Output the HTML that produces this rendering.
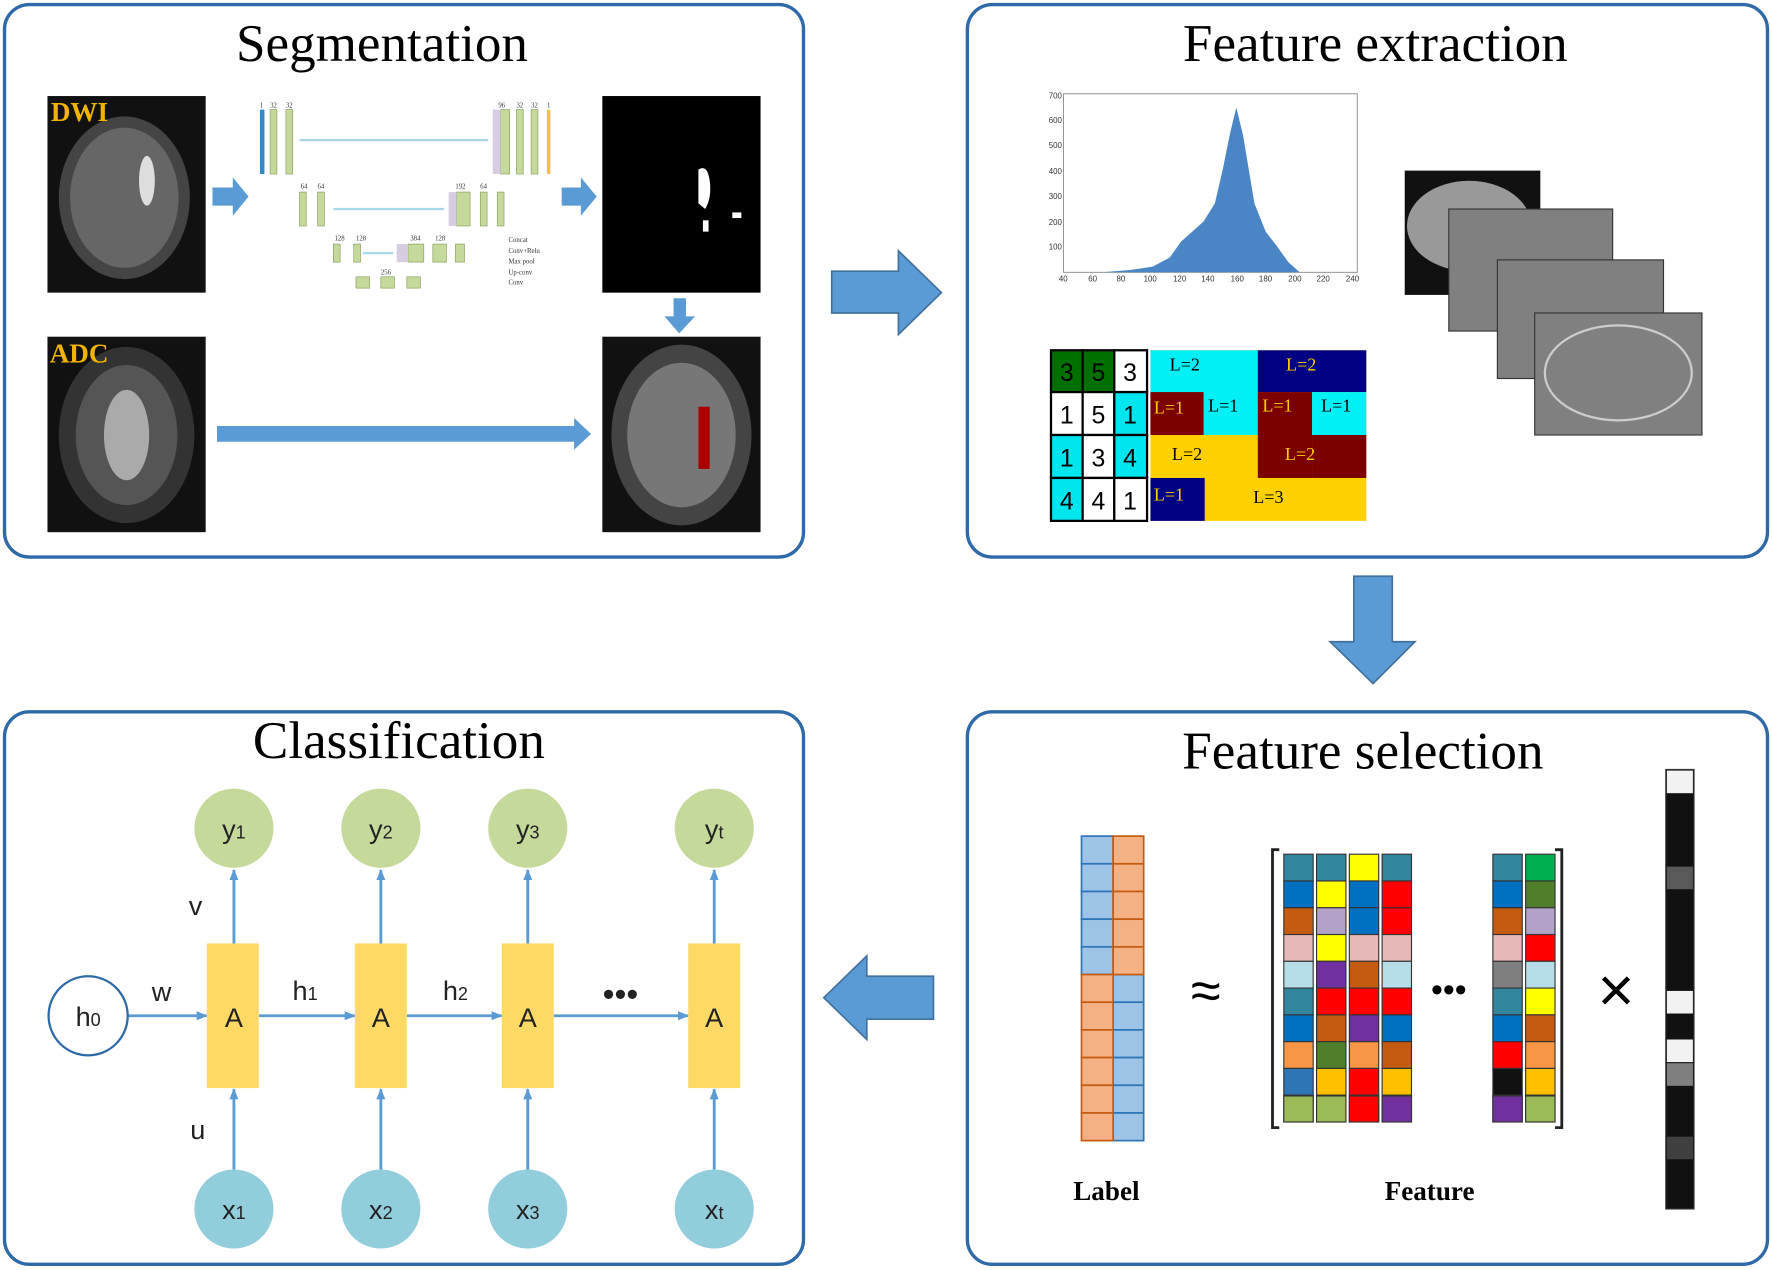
<!DOCTYPE html>
<html><head><meta charset="utf-8"><style>
html,body{margin:0;padding:0;background:#fff}
svg{display:block}
text{font-family:"Liberation Serif",serif}
.s text, text.s{font-family:"Liberation Sans",sans-serif}
</style></head><body>
<svg width="1772" height="1270" viewBox="0 0 1568 1124" preserveAspectRatio="none" xmlns="http://www.w3.org/2000/svg">
<defs>
<marker id="ah" markerWidth="10" markerHeight="10" refX="9" refY="5" orient="auto" markerUnits="userSpaceOnUse"><path d="M0,1 L10,5 L0,9 z" fill="#5b9bd5"/></marker>
</defs>
<g fill="none" stroke="#2e6aa8" stroke-width="3">
<rect x="4" y="4" width="707" height="489" rx="22"/>
<rect x="856" y="4" width="708" height="489" rx="22"/>
<rect x="4" y="630" width="707" height="489" rx="22"/>
<rect x="856" y="630" width="708" height="489" rx="22"/>
</g>
<g font-size="47" text-anchor="middle" fill="#000">
<text x="338" y="54">Segmentation</text>
<text x="1217" y="54">Feature extraction</text>
<text x="353" y="671">Classification</text>
<text x="1206" y="680">Feature selection</text>
</g>
<g fill="#5b9bd5" stroke="#41719c" stroke-width="1.5">
<path d="M736,240 H795 V222 L833,259 L795,296 V277 H736 Z"/>
<path d="M1198,510 H1232 V568 H1252 L1215,605 L1177,568 H1198 Z"/>
<path d="M826,864 H767 V846 L729,883 L767,920 V902 H826 Z"/>
</g>
<rect x="42" y="85" width="140" height="174" fill="#111"/>
<ellipse cx="110" cy="175" rx="58" ry="72" fill="#444"/>
<ellipse cx="110" cy="175" rx="48" ry="62" fill="#666"/>
<ellipse cx="130" cy="160" rx="7" ry="22" fill="#ddd"/>
<text x="45" y="107" font-size="24" font-weight="bold" fill="#f0b400">DWI</text>
<rect x="42" y="298" width="140" height="173" fill="#111"/>
<ellipse cx="112" cy="385" rx="60" ry="78" fill="#333"/>
<ellipse cx="112" cy="385" rx="45" ry="62" fill="#555"/>
<ellipse cx="112" cy="385" rx="20" ry="40" fill="#aaa"/>
<text x="44" y="321" font-size="24" font-weight="bold" fill="#f0b400">ADC</text>
<rect x="533" y="85" width="140" height="174" fill="#000"/>
<path d="M618,150 q8,-5 10,10 q2,15 -4,25 l-6,-5 z" fill="#fff"/>
<rect x="622" y="195" width="5" height="10" fill="#fff"/><rect x="648" y="188" width="8" height="5" fill="#fff"/>
<rect x="533" y="298" width="140" height="173" fill="#111"/>
<ellipse cx="603" cy="385" rx="62" ry="80" fill="#444"/>
<ellipse cx="603" cy="385" rx="48" ry="64" fill="#777"/>
<rect x="618" y="360" width="10" height="55" fill="#a00"/>
<g fill="#5b9bd5">
<path d="M188,166 H206 V157 L220,174 L206,191 V182 H188 Z"/>
<path d="M497,166 H514 V157 L528,174 L514,191 V182 H497 Z"/>
<path d="M596,264 H607 V280 H615 L601,295 L588,280 H596 Z"/>
<path d="M192,377 H508 V370 L523,384 L508,398 V391 H192 Z"/>
</g>
<g fill="#c5d99b" stroke="#8aa060" stroke-width="0.6">
<rect x="239" y="97" width="6" height="57"/><rect x="253" y="97" width="6" height="57"/>
<rect x="265" y="170" width="6" height="30"/><rect x="281" y="170" width="6" height="30"/>
<rect x="295" y="216" width="6" height="16"/><rect x="313" y="216" width="6" height="16"/>
<rect x="315" y="245" width="12" height="10"/><rect x="337" y="245" width="12" height="10"/><rect x="360" y="245" width="12" height="10"/>
<rect x="361" y="216" width="14" height="16"/><rect x="383" y="216" width="12" height="16"/><rect x="403" y="216" width="8" height="16"/>
<rect x="404" y="170" width="12" height="30"/><rect x="425" y="170" width="6" height="30"/><rect x="440" y="170" width="6" height="30"/>
<rect x="443" y="97" width="8" height="57"/><rect x="457" y="97" width="6" height="57"/><rect x="470" y="97" width="6" height="57"/>
</g>
<rect x="230" y="97" width="4" height="57" fill="#2e8bd0"/>
<rect x="484" y="97" width="3" height="57" fill="#f0c040"/>
<rect x="436" y="97" width="7" height="57" fill="#d7cde3"/>
<rect x="397" y="170" width="7" height="30" fill="#d7cde3"/>
<rect x="351" y="216" width="10" height="16" fill="#d7cde3"/>
<g stroke="#a8d8e8" stroke-width="2"><line x1="265" y1="124" x2="432" y2="124"/><line x1="295" y1="185" x2="393" y2="185"/><line x1="321" y1="224" x2="348" y2="224"/></g>
<g font-size="6" fill="#333"><text x="230" y="95">1</text><text x="239" y="95">32</text><text x="253" y="95">32</text><text x="266" y="167">64</text><text x="281" y="167">64</text><text x="296" y="213">128</text><text x="315" y="213">128</text><text x="337" y="243">256</text><text x="363" y="213">384</text><text x="385" y="213">128</text><text x="403" y="167">192</text><text x="425" y="167">64</text><text x="441" y="95">96</text><text x="457" y="95">32</text><text x="470" y="95">32</text><text x="484" y="95">1</text>
<text x="450" y="214">Concat</text><text x="450" y="224">Conv+Relu</text><text x="450" y="233">Max pool</text><text x="450" y="243">Up-conv</text><text x="450" y="252">Conv</text></g>
<g stroke="#888" stroke-width="0.8" fill="none"><rect x="941" y="83" width="260" height="158"/></g>
<g fill="#4a86c5">
<path d="M975,241 L1000,239 L1020,236 L1035,228 L1045,214 L1055,205 L1065,196 L1075,180 L1082,150 L1088,120 L1094,95 L1100,120 L1105,150 L1110,180 L1120,205 L1130,218 L1140,232 L1150,241 Z"/>
</g>
<g font-size="7" fill="#333" class="s"><text x="928" y="87">700</text><text x="928" y="109">600</text><text x="928" y="131">500</text><text x="928" y="154">400</text><text x="928" y="176">300</text><text x="928" y="199">200</text><text x="928" y="221">100</text>
<text x="937" y="249">40</text><text x="963" y="249">60</text><text x="988" y="249">80</text><text x="1012" y="249">100</text><text x="1038" y="249">120</text><text x="1063" y="249">140</text><text x="1089" y="249">160</text><text x="1114" y="249">180</text><text x="1140" y="249">200</text><text x="1165" y="249">220</text><text x="1191" y="249">240</text></g>
<rect x="1243" y="151" width="120" height="110" fill="#111"/>
<ellipse cx="1300" cy="200" rx="55" ry="40" fill="#999"/>
<rect x="1282" y="185" width="145" height="108" fill="#808080" stroke="#333"/>
<rect x="1325" y="230" width="147" height="105" fill="#808080" stroke="#333"/>
<rect x="1358" y="277" width="148" height="108" fill="#808080" stroke="#333"/>
<ellipse cx="1432" cy="330" rx="65" ry="42" fill="none" stroke="#ccc" stroke-width="2"/>
<g stroke="#000" stroke-width="2">
<rect x="930" y="310" width="28" height="37" fill="#007000"/><rect x="958" y="310" width="28" height="37" fill="#007000"/><rect x="986" y="310" width="29" height="37" fill="#fff"/>
<rect x="930" y="347" width="28" height="38" fill="#fff"/><rect x="958" y="347" width="28" height="38" fill="#fff"/><rect x="986" y="347" width="29" height="38" fill="#00e5ee"/>
<rect x="930" y="385" width="28" height="38" fill="#00e5ee"/><rect x="958" y="385" width="28" height="38" fill="#fff"/><rect x="986" y="385" width="29" height="38" fill="#00e5ee"/>
<rect x="930" y="423" width="28" height="38" fill="#00e5ee"/><rect x="958" y="423" width="28" height="38" fill="#fff"/><rect x="986" y="423" width="29" height="38" fill="#fff"/>
</g>
<g font-size="22" text-anchor="middle" class="s"><text x="944" y="337">3</text><text x="972" y="337">5</text><text x="1000" y="337">3</text><text x="944" y="375">1</text><text x="972" y="375">5</text><text x="1000" y="375">1</text><text x="944" y="413">1</text><text x="972" y="413">3</text><text x="1000" y="413">4</text><text x="944" y="451">4</text><text x="972" y="451">4</text><text x="1000" y="451">1</text></g>
<rect x="1018" y="310" width="191" height="151" fill="#ffd000"/>
<rect x="1018" y="310" width="95" height="75" fill="#00f0f5"/>
<rect x="1113" y="310" width="96" height="37" fill="#000080"/>
<rect x="1018" y="347" width="47" height="38" fill="#7b0000"/>
<rect x="1113" y="347" width="48" height="76" fill="#7b0000"/><rect x="1161" y="385" width="48" height="38" fill="#7b0000"/>
<rect x="1161" y="347" width="48" height="38" fill="#00f0f5"/>
<rect x="1018" y="423" width="48" height="38" fill="#000080"/>
<g font-size="16"><text x="1035" y="328">L=2</text><text x="1138" y="328" fill="#ffd000">L=2</text><text x="1021" y="366" fill="#ffd000">L=1</text><text x="1069" y="364">L=1</text><text x="1117" y="364" fill="#ffd000">L=1</text><text x="1169" y="364">L=1</text><text x="1037" y="407">L=2</text><text x="1137" y="407" fill="#ffd000">L=2</text><text x="1021" y="443" fill="#ffd000">L=1</text><text x="1109" y="445">L=3</text></g>
<g stroke="#5b9bd5" stroke-width="2.5" fill="none" marker-end="url(#ah)">
<line x1="113" y1="899" x2="183" y2="899"/><line x1="229" y1="899" x2="314" y2="899"/><line x1="360" y1="899" x2="444" y2="899"/><line x1="490" y1="899" x2="609" y2="899"/>
<line x1="207" y1="835" x2="207" y2="770"/><line x1="337" y1="835" x2="337" y2="770"/><line x1="467" y1="835" x2="467" y2="770"/><line x1="632" y1="835" x2="632" y2="770"/>
<line x1="207" y1="1035" x2="207" y2="964"/><line x1="337" y1="1035" x2="337" y2="964"/><line x1="467" y1="1035" x2="467" y2="964"/><line x1="632" y1="1035" x2="632" y2="964"/>
</g>
<circle cx="78" cy="899" r="35" fill="#fff" stroke="#2e6aa8" stroke-width="2"/>
<g fill="#ffd966"><rect x="183" y="835" width="46" height="128"/><rect x="314" y="835" width="46" height="128"/><rect x="444" y="835" width="46" height="128"/><rect x="609" y="835" width="46" height="128"/></g>
<g fill="#c5d99b"><circle cx="207" cy="733" r="35"/><circle cx="337" cy="733" r="35"/><circle cx="467" cy="733" r="35"/><circle cx="632" cy="733" r="35"/></g>
<g fill="#92cddc"><circle cx="207" cy="1070" r="35"/><circle cx="337" cy="1070" r="35"/><circle cx="467" cy="1070" r="35"/><circle cx="632" cy="1070" r="35"/></g>
<g class="s" font-size="24" fill="#222" text-anchor="middle">
<text x="78" y="908">h<tspan font-size="16">0</tspan></text>
<text x="207" y="909">A</text><text x="337" y="909">A</text><text x="467" y="909">A</text><text x="632" y="909">A</text>
<text x="207" y="742">y<tspan font-size="16">1</tspan></text><text x="337" y="742">y<tspan font-size="16">2</tspan></text><text x="467" y="742">y<tspan font-size="16">3</tspan></text><text x="632" y="742">y<tspan font-size="16">t</tspan></text>
<text x="207" y="1079">x<tspan font-size="16">1</tspan></text><text x="337" y="1079">x<tspan font-size="16">2</tspan></text><text x="467" y="1079">x<tspan font-size="16">3</tspan></text><text x="632" y="1079">x<tspan font-size="16">t</tspan></text>
<text x="143" y="886">w</text><text x="270" y="885">h<tspan font-size="16">1</tspan></text><text x="403" y="885">h<tspan font-size="16">2</tspan></text>
<text x="173" y="810">v</text><text x="175" y="1008">u</text>
<text x="549" y="890" font-size="30">•••</text>
</g>
<g stroke-width="1.5">
<g fill="#9dc3e6" stroke="#2e75b6">
<rect x="957" y="740" width="28" height="24.5"/><rect x="957" y="764.5" width="28" height="24.5"/><rect x="957" y="789" width="28" height="24.5"/><rect x="957" y="813.5" width="28" height="24.5"/><rect x="957" y="838" width="28" height="24.5"/>
<rect x="985" y="862.5" width="27" height="24.5"/><rect x="985" y="887" width="27" height="24.5"/><rect x="985" y="911.5" width="27" height="24.5"/><rect x="985" y="936" width="27" height="24.5"/><rect x="985" y="960.5" width="27" height="24.5"/><rect x="985" y="985" width="27" height="24.5"/>
</g>
<g fill="#f4b183" stroke="#c55a11">
<rect x="985" y="740" width="27" height="24.5"/><rect x="985" y="764.5" width="27" height="24.5"/><rect x="985" y="789" width="27" height="24.5"/><rect x="985" y="813.5" width="27" height="24.5"/><rect x="985" y="838" width="27" height="24.5"/>
<rect x="957" y="862.5" width="28" height="24.5"/><rect x="957" y="887" width="28" height="24.5"/><rect x="957" y="911.5" width="28" height="24.5"/><rect x="957" y="936" width="28" height="24.5"/><rect x="957" y="960.5" width="28" height="24.5"/><rect x="957" y="985" width="28" height="24.5"/>
</g>
</g>
<text x="1067" y="893" font-size="48" class="s" text-anchor="middle">≈</text>
<g fill="none" stroke="#222" stroke-width="2.5"><path d="M1132,752 h-6 v246 h6"/><path d="M1376,752 h6 v246 h-6"/></g>
<g stroke="#333" stroke-width="1">
<g transform="translate(1136,756)">
<rect y="0" width="26" height="23.7" fill="#31859c"/><rect y="23.7" width="26" height="23.7" fill="#0070c0"/><rect y="47.4" width="26" height="23.7" fill="#c55a11"/><rect y="71.1" width="26" height="23.7" fill="#e6b9b8"/><rect y="94.8" width="26" height="23.7" fill="#b7dee8"/><rect y="118.5" width="26" height="23.7" fill="#31859c"/><rect y="142.2" width="26" height="23.7" fill="#0070c0"/><rect y="165.9" width="26" height="23.7" fill="#f79646"/><rect y="189.6" width="26" height="23.7" fill="#2e75b6"/><rect y="213.3" width="26" height="23.7" fill="#c0504d"/>
</g>
<g transform="translate(1165,756)">
<rect y="0" width="26" height="23.7" fill="#31859c"/><rect y="23.7" width="26" height="23.7" fill="#ffff00"/><rect y="47.4" width="26" height="23.7" fill="#b3a2c7"/><rect y="71.1" width="26" height="23.7" fill="#ffff00"/><rect y="94.8" width="26" height="23.7" fill="#7030a0"/><rect y="118.5" width="26" height="23.7" fill="#ff0000"/><rect y="142.2" width="26" height="23.7" fill="#c55a11"/><rect y="165.9" width="26" height="23.7" fill="#4f7f2a"/><rect y="189.6" width="26" height="23.7" fill="#ffc000"/><rect y="213.3" width="26" height="23.7" fill="#7030a0"/>
</g>
<g transform="translate(1194,756)">
<rect y="0" width="26" height="23.7" fill="#ffff00"/><rect y="23.7" width="26" height="23.7" fill="#0070c0"/><rect y="47.4" width="26" height="23.7" fill="#0070c0"/><rect y="71.1" width="26" height="23.7" fill="#e6b9b8"/><rect y="94.8" width="26" height="23.7" fill="#c55a11"/><rect y="118.5" width="26" height="23.7" fill="#ff0000"/><rect y="142.2" width="26" height="23.7" fill="#7030a0"/><rect y="165.9" width="26" height="23.7" fill="#f79646"/><rect y="189.6" width="26" height="23.7" fill="#ff0000"/><rect y="213.3" width="26" height="23.7" fill="#7030a0"/>
</g>
<g transform="translate(1223,756)">
<rect y="0" width="26" height="23.7" fill="#31859c"/><rect y="23.7" width="26" height="23.7" fill="#ff0000"/><rect y="47.4" width="26" height="23.7" fill="#ff0000"/><rect y="71.1" width="26" height="23.7" fill="#e6b9b8"/><rect y="94.8" width="26" height="23.7" fill="#b7dee8"/><rect y="118.5" width="26" height="23.7" fill="#ff0000"/><rect y="142.2" width="26" height="23.7" fill="#0070c0"/><rect y="165.9" width="26" height="23.7" fill="#c55a11"/><rect y="189.6" width="26" height="23.7" fill="#ffc000"/><rect y="213.3" width="26" height="23.7" fill="#ff0000"/>
</g>
<g transform="translate(1321,756)">
<rect y="0" width="26" height="23.7" fill="#31859c"/><rect y="23.7" width="26" height="23.7" fill="#0070c0"/><rect y="47.4" width="26" height="23.7" fill="#c55a11"/><rect y="71.1" width="26" height="23.7" fill="#e6b9b8"/><rect y="94.8" width="26" height="23.7" fill="#7f7f7f"/><rect y="118.5" width="26" height="23.7" fill="#31859c"/><rect y="142.2" width="26" height="23.7" fill="#0070c0"/><rect y="165.9" width="26" height="23.7" fill="#ff0000"/><rect y="189.6" width="26" height="23.7" fill="#111"/><rect y="213.3" width="26" height="23.7" fill="#c0504d"/>
</g>
<g transform="translate(1350,756)">
<rect y="0" width="26" height="23.7" fill="#00b050"/><rect y="23.7" width="26" height="23.7" fill="#4f7f2a"/><rect y="47.4" width="26" height="23.7" fill="#b3a2c7"/><rect y="71.1" width="26" height="23.7" fill="#ff0000"/><rect y="94.8" width="26" height="23.7" fill="#b7dee8"/><rect y="118.5" width="26" height="23.7" fill="#ffff00"/><rect y="142.2" width="26" height="23.7" fill="#c55a11"/><rect y="165.9" width="26" height="23.7" fill="#f79646"/><rect y="189.6" width="26" height="23.7" fill="#ffc000"/><rect y="213.3" width="26" height="23.7" fill="#ff0000"/>
</g>
<g fill="#9bbb59"><rect x="1136" y="970" width="26" height="23"/><rect x="1165" y="970" width="26" height="23"/><rect x="1350" y="970" width="26" height="23"/></g>
<g fill="#ff0000"><rect x="1194" y="970" width="26" height="23"/></g>
<g fill="#7030a0"><rect x="1223" y="970" width="26" height="23"/><rect x="1321" y="970" width="26" height="23"/></g>
</g>
<text x="1282" y="886" font-size="30" class="s" text-anchor="middle">•••</text>
<text x="1430" y="895" font-size="56" class="s" text-anchor="middle">×</text>
<rect x="1474" y="681" width="25" height="389" fill="#111" stroke="#333"/>
<rect x="1475" y="682" width="23" height="20" fill="#f2f2f2"/>
<rect x="1475" y="767" width="23" height="20" fill="#595959"/>
<rect x="1475" y="877" width="23" height="20" fill="#f2f2f2"/>
<rect x="1475" y="920" width="23" height="20" fill="#f2f2f2"/>
<rect x="1475" y="941" width="23" height="20" fill="#7f7f7f"/>
<rect x="1475" y="1006" width="23" height="20" fill="#404040"/>
<g font-size="24" font-weight="bold" text-anchor="middle"><text x="979" y="1062">Label</text><text x="1265" y="1062">Feature</text></g>
</svg>
</body></html>
